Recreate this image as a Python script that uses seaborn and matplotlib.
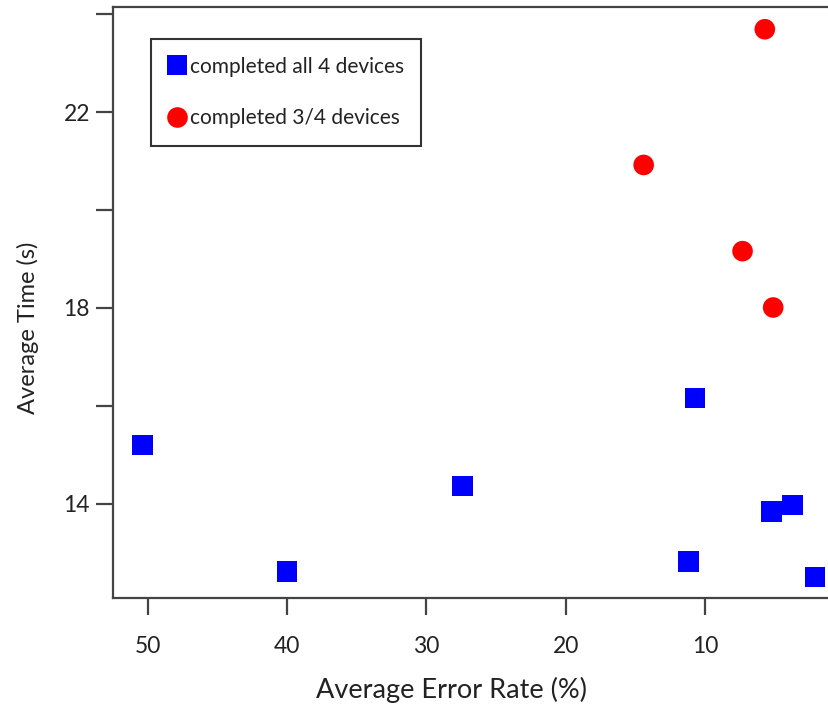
import matplotlib
matplotlib.use("Agg")
import matplotlib.pyplot as plt
import pandas as pd
import seaborn as sns

# data
all4_err = [50.4, 40.0, 27.4, 10.7, 11.2, 5.2, 3.7, 2.1]
all4_time = [15.20, 12.62, 14.37, 16.16, 12.83, 13.85, 13.98, 12.51]
three4_err = [5.7, 14.4, 7.3, 5.1]
three4_time = [23.69, 20.92, 19.16, 18.01]

lab_all4 = "completed all 4 devices"
lab_three4 = "completed 3/4 devices"
x_ticks = [10, 20, 30, 40, 50]
y_major = [14, 18, 22]
y_minor = [16, 20, 24]

df = pd.concat([
    pd.DataFrame({"err": all4_err, "time": all4_time, "group": lab_all4}),
    pd.DataFrame({"err": three4_err, "time": three4_time, "group": lab_three4}),
])

sns.set_style("ticks")
plt.rcParams['font.family'] = ['Lato', 'DejaVu Sans']

fig = plt.figure(figsize=(8.29, 7.14), dpi=100)
ax = fig.add_axes([113 / 829, 116 / 714, (835 - 113) / 829, (598 - 6.7) / 714])

sns.scatterplot(data=df, x="err", y="time", hue="group", style="group",
                palette={lab_all4: "#0000ff", lab_three4: "#ff0000"},
                markers={lab_all4: "s", lab_three4: "o"},
                s=220, linewidth=0, ax=ax, legend=True)

ax.set_xlim(52.51, 0.66)
ax.set_ylim(12.08, 24.15)
ax.set_xticks(x_ticks)
ax.set_xticklabels([str(v) for v in x_ticks])
ax.set_yticks(y_major)
ax.set_yticklabels([str(v) for v in y_major])
ax.set_yticks(y_minor, minor=True)

spine_col = "#444444"
for sp in ax.spines.values():
    sp.set_color(spine_col)
    sp.set_linewidth(1.6)
ax.tick_params(axis="y", which="both", length=12.5, width=1.6, color=spine_col,
               labelsize=16.5, pad=4, labelcolor="#222222")
ax.tick_params(axis="x", which="both", length=12.5, width=1.6, color=spine_col,
               labelsize=16.5, pad=15, labelcolor="#222222")

ax.set_xlabel("Average Error Rate (%)", fontsize=19.5, color="#222222", va="center")
ax.set_ylabel("Average Time (s)", fontsize=17, color="#222222", va="center")
ax.xaxis.set_label_coords(0.4695, -0.1556)
ax.yaxis.set_label_coords(-0.118, 0.4566)

handles, labels = ax.get_legend_handles_labels()
leg = ax.legend(handles, labels, loc="upper left", bbox_to_anchor=(0.0526, 0.9454),
                borderaxespad=0, fancybox=False, frameon=True, fontsize=15,
                labelspacing=1.5, handletextpad=0.2, handlelength=0.8,
                borderpad=0.85, markerscale=1.0)
leg.get_frame().set_edgecolor("black")
leg.get_frame().set_linewidth(1.5)
for t in leg.get_texts():
    t.set_color("#222222")

fig.savefig("out.png", dpi=100)
